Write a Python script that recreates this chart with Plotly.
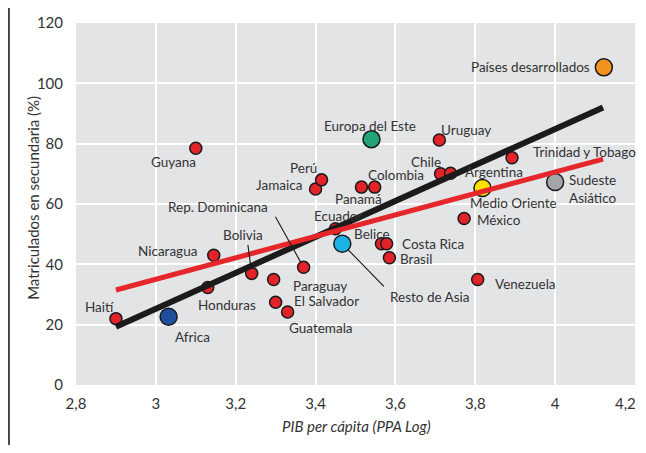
import plotly.graph_objects as go

# ---- data ----
country_names = ["Haití", "Guyana", "Nicaragua", "Honduras", "Bolivia", "Paraguay",
                 "El Salvador", "Guatemala", "Rep. Dominicana", "Jamaica", "Perú",
                 "Ecuador", "Panamá", "Colombia", "Belice", "Costa Rica", "Brasil",
                 "Uruguay", "Chile", "Argentina", "México", "Venezuela",
                 "Trinidad y Tobago"]
country_pib = [2.90, 3.10, 3.145, 3.13, 3.24, 3.295, 3.30, 3.33, 3.37, 3.40, 3.415,
               3.45, 3.515, 3.548, 3.565, 3.578, 3.585, 3.71, 3.713, 3.738, 3.772,
               3.806, 3.892]
country_matric = [22.0, 78.5, 43.0, 32.3, 37.0, 35.0, 27.4, 24.2, 39.0, 65.0, 68.0,
                  51.8, 65.6, 65.6, 46.8, 46.8, 42.2, 81.2, 70.0, 70.2, 55.2, 35.0,
                  75.3]

region_names = ["Africa", "Resto de Asia", "Europa del Este", "Medio Oriente",
                "Sudeste<br>Asiático", "Países desarrollados"]
region_pib = [3.032, 3.467, 3.54, 3.818, 4.0, 4.122]
region_matric = [22.6, 46.8, 81.5, 65.3, 67.3, 105.3]

trend_x = [2.90, 4.12]
trend_black_y = [19.3, 92.0]
trend_red_y = [31.5, 74.9]

x_ticks = [2.8, 3.0, 3.2, 3.4, 3.6, 3.8, 4.0, 4.2]
x_tick_labels = ["2,8", "3", "3,2", "3,4", "3,6", "3,8", "4", "4,2"]
y_ticks = [0, 20, 40, 60, 80, 100, 120]

# ---- styles / label placement (pixel offsets from each point) ----
region_colors = ["#1d4f9c", "#19b3e6", "#22a37a", "#ffe100", "#a3a5a8", "#f0931f"]
country_label_offsets = {
    "Haití": (-16, -12), "Guyana": (-22, 14), "Nicaragua": (-46, -4),
    "Honduras": (19, 17), "Bolivia": (-9, -38), "Paraguay": (46, 7),
    "El Salvador": (51, -1), "Guatemala": (33, 16), "Rep. Dominicana": (-86, -60),
    "Jamaica": (-37, -4), "Perú": (-18, -12), "Ecuador": (2, -13),
    "Panamá": (-3, 12), "Colombia": (21, -12), "Belice": (-9, -10),
    "Costa Rica": (46, 0), "Brasil": (27, 1), "Uruguay": (27, -10),
    "Chile": (-15, -12), "Argentina": (43, -1), "México": (35, 2),
    "Venezuela": (48, 5), "Trinidad y Tobago": (72, -6),
}
region_label_offsets = {
    "Africa": (24, 20), "Resto de Asia": (88, 53), "Europa del Este": (-1, -13),
    "Medio Oriente": (31, 15), "Sudeste<br>Asiático": (37, 7.5),
    "Países desarrollados": (-73, 0),
}
leaders = {"Bolivia": (-4, -30), "Rep. Dominicana": (-29, -52), "Resto de Asia": (43, 44)}

FONT = "Lato"
TXT = "#333333"
LABEL_SIZE = 13.5
TICK_SIZE = 15

fig = go.Figure()

fig.add_trace(go.Scatter(
    x=country_pib, y=country_matric, mode="markers",
    marker=dict(size=12, color="#e3232a", line=dict(color="#1a1a1a", width=1.5)),
    hoverinfo="skip", showlegend=False))
fig.add_trace(go.Scatter(
    x=region_pib, y=region_matric, mode="markers",
    marker=dict(size=17, color=region_colors, line=dict(color="#1a1a1a", width=1.5)),
    hoverinfo="skip", showlegend=False))
fig.add_trace(go.Scatter(
    x=trend_x, y=trend_black_y, mode="lines",
    line=dict(color="#1c1a1a", width=6), hoverinfo="skip", showlegend=False))
fig.add_trace(go.Scatter(
    x=trend_x, y=trend_red_y, mode="lines",
    line=dict(color="#e5262b", width=5), hoverinfo="skip", showlegend=False))

annotations = []
for n, xv, yv in zip(country_names, country_pib, country_matric):
    dx, dy = country_label_offsets[n]
    annotations.append(dict(x=xv, y=yv, text=n, showarrow=False, xshift=dx, yshift=-dy,
                            font=dict(family=FONT, size=LABEL_SIZE, color=TXT)))
for n, xv, yv in zip(region_names, region_pib, region_matric):
    dx, dy = region_label_offsets[n]
    annotations.append(dict(x=xv, y=yv, text=n, showarrow=False, xshift=dx, yshift=-dy,
                            align="left",
                            font=dict(family=FONT, size=LABEL_SIZE, color=TXT)))
all_pts = dict(zip(country_names + region_names,
                   zip(country_pib + region_pib, country_matric + region_matric)))
for n, (ax, ay) in leaders.items():
    xv, yv = all_pts[n]
    annotations.append(dict(x=xv, y=yv, text="", showarrow=True, arrowhead=0,
                            arrowwidth=1.1, arrowcolor="#1a1a1a", ax=ax, ay=ay,
                            standoff=6 if n != "Resto de Asia" else 8))

# last x tick label drawn as annotation so it stays inside the figure
shown_ticktext = x_tick_labels[:-1] + [""]
annotations.append(dict(x=x_ticks[-1], xref="x", yref="paper", y=0, yanchor="top",
                        xanchor="right", xshift=3, yshift=-7, text=x_tick_labels[-1],
                        showarrow=False,
                        font=dict(family=FONT, size=TICK_SIZE, color=TXT)))

annotations.append(dict(xref="paper", yref="paper", x=-0.0966, y=0.517,
                        text="Matriculados en secundaria (%)", textangle=-90,
                        showarrow=False, font=dict(family=FONT, size=15, color=TXT)))
annotations.append(dict(xref="paper", yref="paper", x=0.501, y=-0.1436,
                        text="<i>PIB per cápita (PPA Log)</i>",
                        showarrow=False, font=dict(family=FONT, size=15, color=TXT)))

fig.update_layout(
    width=630, height=437,
    margin=dict(l=68, r=3, t=15, b=60),
    paper_bgcolor="white", plot_bgcolor="#e3e4e6",
    annotations=annotations,
    shapes=[dict(type="line", xref="paper", yref="paper", x0=-0.1199, x1=-0.1199,
                 y0=-0.17, y1=1.05, line=dict(color="#111", width=1.5))],
    xaxis=dict(range=[2.8, 4.2], tickvals=x_ticks, ticktext=shown_ticktext,
               showgrid=True, gridcolor="white", gridwidth=2, zeroline=False,
               showline=False, ticklabelstandoff=8,
               tickfont=dict(family=FONT, size=TICK_SIZE, color=TXT)),
    yaxis=dict(range=[0, 120], tickvals=y_ticks,
               showgrid=True, gridcolor="white", gridwidth=2, zeroline=False,
               showline=False, ticklabelstandoff=12,
               tickfont=dict(family=FONT, size=TICK_SIZE, color=TXT)),
)

fig.write_html("out.html", config={"displayModeBar": False})
